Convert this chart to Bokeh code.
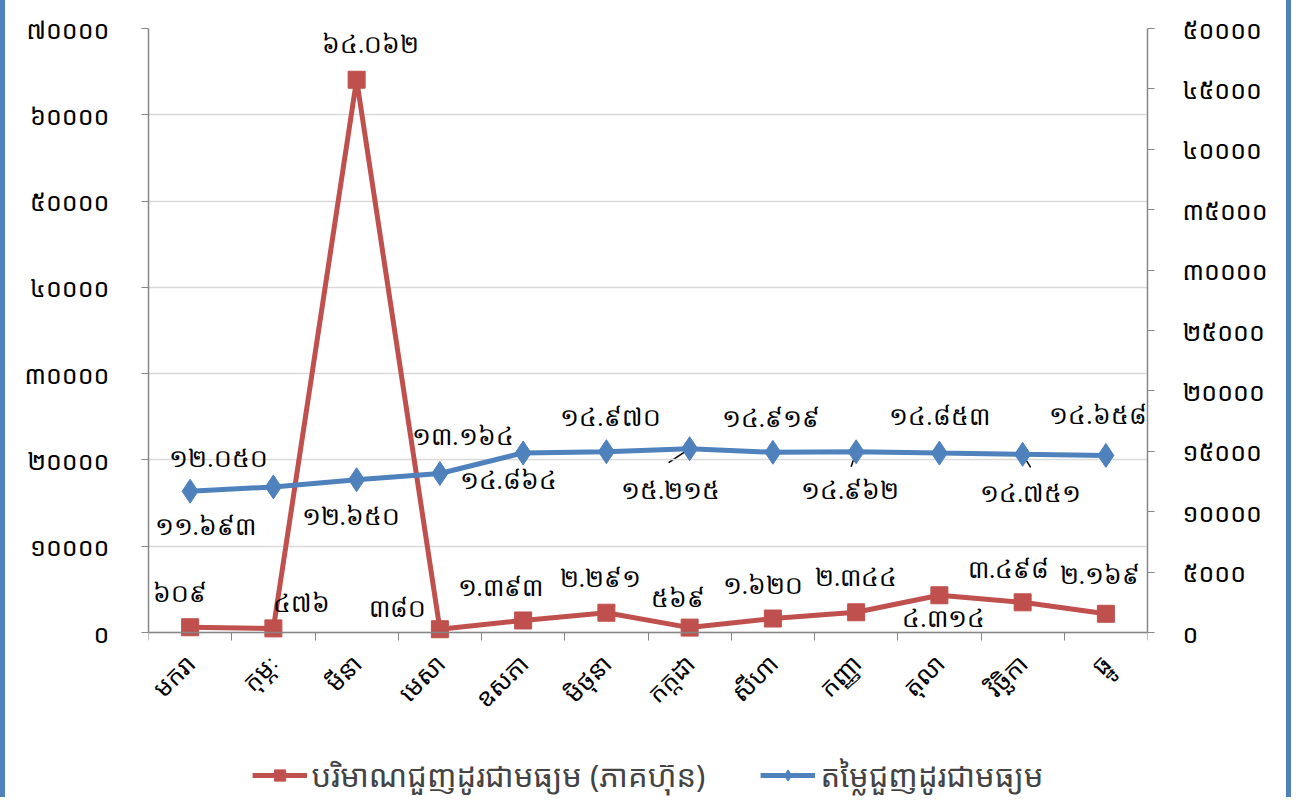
import math
from bokeh.plotting import figure
from bokeh.models import (Range1d, LinearAxis, FixedTicker, ColumnDataSource,
                          LabelSet, Legend, LegendItem)
from bokeh.embed import file_html
from bokeh.resources import INLINE

# ---------------- data ----------------
months = ["មករា", "កុម្ភៈ", "មីនា", "មេសា", "ឧសភា", "មិថុនា",
          "កក្កដា", "សីហា", "កញ្ញា", "តុលា", "វិច្ឆិកា", "ធ្នូ"]
volume = [609, 476, 64062, 380, 1393, 2291, 569, 1620, 2344, 4314, 3498, 2169]
value = [11693, 12050, 12650, 13164, 14864, 14970, 15215, 14919, 14962, 14853, 14751, 14658]
left_ticks = [0, 10000, 20000, 30000, 40000, 50000, 60000, 70000]
right_ticks = [0, 5000, 10000, 15000, 20000, 25000, 30000, 35000, 40000, 45000, 50000]
volume_name = "បរិមាណជួញដូរជាមធ្យម (ភាគហ៊ុន)"
value_name = "តម្លៃជួញដូរជាមធ្យម"

# label offsets (screen px) for data labels
vol_dx = [-10, 28, 14, -42, -23, -6, -12, -10, 0, 4, -14, -6]
vol_dy = [34, 25, 35, 21, 33, 34, 29, 33, 35, -23, 33, 38]
val_dx = [15, -55, -6, 23, -15, 4, -19, -2, -6, 0, 8, -8]
val_dy = [-35, 28, -37, 37, -28, 34, -42, 34, -39, 37, -39, 40]

KD = str.maketrans("0123456789", "០១២៣៤៥៦៧៨៩")


def kh(n):
    return f"{n:,}".replace(",", ".").translate(KD)


FONT = "'Noto Sans Khmer', 'Khmer OS', 'Noto Sans', sans-serif"
RED = "#C0504D"
BLUE = "#4F81BD"
AXIS = "#868686"
FS = "25px"

# layout: plot area of 604 px for the value scales, plus room below for month labels + legend
PLOT_H = 604
EXTRA_H = 165
LEFT_MAX = 70000
RIGHT_MAX = 50000

xs = [i + 0.5 for i in range(len(months))]

p = figure(frame_width=999, frame_height=PLOT_H + EXTRA_H, x_range=Range1d(0, 12),
           y_range=Range1d(-LEFT_MAX * EXTRA_H / PLOT_H, LEFT_MAX),
           output_backend="svg", toolbar_location=None,
           min_border_left=148, min_border_right=144, min_border_top=28, min_border_bottom=0,
           styles={"box-shadow": "inset 5px 0 0 #4F81BD, inset -5px 0 0 #4F81BD"})
p.extra_y_ranges = {"right": Range1d(-RIGHT_MAX * EXTRA_H / PLOT_H, RIGHT_MAX)}
p.outline_line_color = None
p.background_fill_color = "white"
p.border_fill_alpha = 0

# left axis
ya = p.yaxis[0]
ya.ticker = FixedTicker(ticks=left_ticks)
ya.bounds = (0, LEFT_MAX)
ya.major_label_overrides = {t: str(t).translate(KD) for t in left_ticks}
ya.axis_line_color = AXIS
ya.axis_line_width = 1.5
ya.major_tick_line_color = AXIS
ya.major_tick_out = 7
ya.major_tick_in = 0
ya.minor_tick_line_color = None
ya.major_label_standoff = 32
ya.major_label_text_font = FONT
ya.major_label_text_font_size = FS
ya.major_label_text_color = "black"

# right axis
ra = LinearAxis(y_range_name="right", ticker=FixedTicker(ticks=right_ticks), bounds=(0, RIGHT_MAX))
ra.major_label_overrides = {t: str(t).translate(KD) for t in right_ticks}
ra.axis_line_color = AXIS
ra.axis_line_width = 1.5
ra.major_tick_line_color = AXIS
ra.major_tick_out = 7
ra.major_tick_in = 0
ra.minor_tick_line_color = None
ra.major_label_standoff = 28
ra.major_label_text_font = FONT
ra.major_label_text_font_size = FS
ra.major_label_text_color = "black"
p.add_layout(ra, "right")

# x axis, pinned at value 0
xa = p.xaxis[0]
xa.fixed_location = 0
xa.ticker = FixedTicker(ticks=xs, minor_ticks=list(range(13)))
xa.major_label_overrides = {x: m for x, m in zip(xs, months)}
xa.major_label_orientation = math.pi / 4
xa.axis_line_color = AXIS
xa.axis_line_width = 1.5
xa.major_tick_line_color = None
xa.minor_tick_line_color = AXIS
xa.minor_tick_out = 8
xa.minor_tick_in = 0
xa.major_label_standoff = 18
xa.major_label_text_font = FONT
xa.major_label_text_font_size = FS
xa.major_label_text_color = "black"

p.xgrid.visible = False
p.ygrid.ticker = FixedTicker(ticks=left_ticks)
p.ygrid.grid_line_color = "#D9D9D9"
p.ygrid.grid_line_width = 1.5

# series
vol_src = ColumnDataSource(dict(x=xs, y=volume, t=[kh(v) for v in volume],
                                dx=vol_dx, dy=vol_dy))
val_src = ColumnDataSource(dict(x=xs, y=value, t=[kh(v) for v in value],
                                dx=val_dx, dy=val_dy))

vl = p.line("x", "y", source=vol_src, line_color=RED, line_width=5)
vm = p.scatter("x", "y", source=vol_src, marker="square", size=17,
               fill_color=RED, line_color=RED)
bl = p.line("x", "y", source=val_src, line_color=BLUE, line_width=5, y_range_name="right")
bm = p.scatter("x", "y", source=val_src, marker="diamond", size=24,
               fill_color=BLUE, line_color=BLUE, y_range_name="right")

# leader lines for some value labels (from point toward its label)
lead_idx = [6, 8, 10]
lead_px = [(-21, -14), (-5, -15), (8, -13)]
px_x = 12 / 999.0
px_y = RIGHT_MAX / PLOT_H
p.segment(x0=[xs[i] for i in lead_idx], y0=[value[i] for i in lead_idx],
          x1=[xs[i] + d[0] * px_x for i, d in zip(lead_idx, lead_px)],
          y1=[value[i] + d[1] * px_y for i, d in zip(lead_idx, lead_px)],
          line_color="black", line_width=1.5, y_range_name="right", level="underlay")

p.add_layout(LabelSet(x="x", y="y", text="t", source=vol_src, x_offset="dx", y_offset="dy",
                      text_align="center", text_baseline="middle", text_font=FONT,
                      text_font_size=FS, text_color="black"))
p.add_layout(LabelSet(x="x", y="y", text="t", source=val_src, x_offset="dx", y_offset="dy",
                      y_range_name="right", text_align="center", text_baseline="middle",
                      text_font=FONT, text_font_size=FS, text_color="black"))

legend = Legend(items=[LegendItem(label=volume_name, renderers=[vl, vm]),
                       LegendItem(label=value_name, renderers=[bl, bm])],
                orientation="horizontal", location="bottom_center",
                label_text_font=FONT, label_text_font_size="31px",
                glyph_width=55, glyph_height=28, spacing=55, label_standoff=5,
                border_line_color=None, background_fill_alpha=0, margin=1, padding=1)
p.add_layout(legend)

open("out.html", "w").write(file_html(p, INLINE))
